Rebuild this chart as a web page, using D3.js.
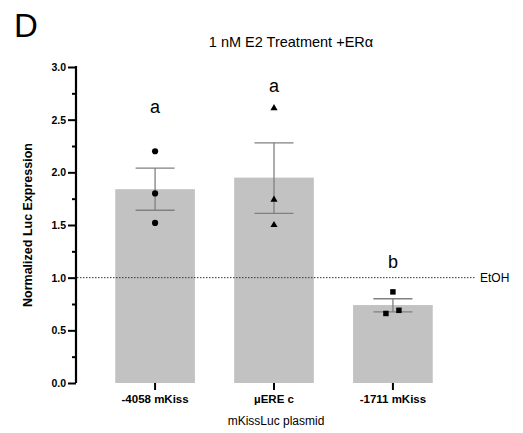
<!DOCTYPE html>
<html>
<head>
<meta charset="utf-8">
<script src="https://cdn.jsdelivr.net/npm/d3@7"></script>
<style>
  body { margin: 0; background: #fff; }
  text { font-family: "Liberation Sans", Arial, sans-serif; }
</style>
</head>
<body>
<div id="content"></div>
<script>
// chart data
var categories = ['-4058 mKiss', '\u00b5ERE c', '-1711 mKiss'];
var means = [1.84, 1.95, 0.74];
var errLow = [1.64, 1.61, 0.675];
var errHigh = [2.04, 2.28, 0.80];
var points = [[2.20, 1.80, 1.52], [2.61, 1.74, 1.50], [0.865, 0.66, 0.69]];
var pointOffsets = [[0, 0, 0], [0, 0, 0], [0, -7, 6]];
var letters = ['a', 'a', 'b'];
var letterValues = [2.56, 2.76, 1.09];
var yTicks = [0, 0.5, 1.0, 1.5, 2.0, 2.5, 3.0];
var yMinorTicks = [0.25, 0.75, 1.25, 1.75, 2.25, 2.75];
var shapes = [d3.symbolCircle, d3.symbolTriangle, d3.symbolSquare];

var svg = d3.select('#content').append('svg')
    .attr('width', 523)
    .attr('height', 433);

var x = d3.scaleBand().domain(categories).range([76, 472]).padding(0.33);
var y = d3.scaleLinear().domain([0, 3]).range([383, 67]);

// panel letter and title
svg.append('text').attr('x', 14).attr('y', 37).attr('font-size', 33).text('D');
svg.append('text').attr('x', 291).attr('y', 47).attr('font-size', 14.5)
    .attr('text-anchor', 'middle').text('1 nM E2 Treatment +ER\u03b1');

// bars
svg.selectAll('rect.bar').data(means).enter().append('rect')
    .attr('class', 'bar')
    .attr('x', function(d, i) { return x(categories[i]); })
    .attr('y', function(d) { return y(d); })
    .attr('width', x.bandwidth())
    .attr('height', function(d) { return y(0) - y(d); })
    .attr('fill', '#c2c2c2');

// EtOH reference line
svg.append('line')
    .attr('x1', 77).attr('x2', 476)
    .attr('y1', y(1)).attr('y2', y(1))
    .attr('stroke', '#333').attr('stroke-width', 1)
    .attr('stroke-dasharray', '1.5,1.5');
svg.append('text').attr('x', 480).attr('y', y(1) + 4.5).attr('font-size', 12).text('EtOH');

// error bars
var cx = function(i) { return x(categories[i]) + x.bandwidth() / 2; };
var eb = svg.append('g').attr('stroke', '#808080').attr('stroke-width', 1.3);
means.forEach(function(m, i) {
    eb.append('line').attr('x1', cx(i)).attr('x2', cx(i))
        .attr('y1', y(errLow[i])).attr('y2', y(errHigh[i]));
    [errLow[i], errHigh[i]].forEach(function(v) {
        eb.append('line').attr('x1', cx(i) - 19.5).attr('x2', cx(i) + 19.5)
            .attr('y1', y(v)).attr('y2', y(v));
    });
});

// individual points
points.forEach(function(vals, i) {
    vals.forEach(function(v, j) {
        svg.append('path')
            .attr('d', d3.symbol().type(shapes[i]).size(i === 1 ? 22 : 30)())
            .attr('transform', 'translate(' + (cx(i) + pointOffsets[i][j]) + ',' + y(v) + ')')
            .attr('fill', '#000');
    });
});

// significance letters
letters.forEach(function(l, i) {
    svg.append('text').attr('x', cx(i)).attr('y', y(letterValues[i]))
        .attr('text-anchor', 'middle').attr('font-size', 18).text(l);
});

// y axis
var yAxis = svg.append('g').attr('transform', 'translate(76,0)')
    .call(d3.axisLeft(y).tickValues(yTicks).tickFormat(d3.format('.1f')).tickSize(8).tickPadding(2));
svg.append('g').attr('transform', 'translate(76,0)')
    .call(d3.axisLeft(y).tickValues(yMinorTicks).tickFormat('').tickSize(4))
    .select('.domain').remove();

// x axis
var xAxis = svg.append('g').attr('transform', 'translate(0,383)')
    .call(d3.axisBottom(x).tickSize(7).tickPadding(5).tickSizeOuter(0));

svg.selectAll('.domain').attr('stroke', '#000').attr('stroke-width', 2.2);
svg.selectAll('.tick line').attr('stroke', '#000').attr('stroke-width', 2);
svg.selectAll('.tick text').attr('font-weight', 'bold')
    .attr('font-family', '"Liberation Sans", Arial, sans-serif').attr('fill', '#000');
yAxis.selectAll('.tick text').attr('font-size', 10.5);
xAxis.selectAll('.tick text').attr('font-size', 11.5);
yAxis.select('.domain').attr('d', 'M0,383V66');
xAxis.select('.domain').attr('d', 'M75,383H472');

// axis titles
svg.append('text')
    .attr('transform', 'translate(32,225) rotate(-90)')
    .attr('text-anchor', 'middle').attr('font-size', 12.5).attr('font-weight', 'bold')
    .text('Normalized Luc Expression');
svg.append('text').attr('x', 276).attr('y', 425)
    .attr('text-anchor', 'middle').attr('font-size', 12).text('mKissLuc plasmid');
</script>
</body>
</html>
